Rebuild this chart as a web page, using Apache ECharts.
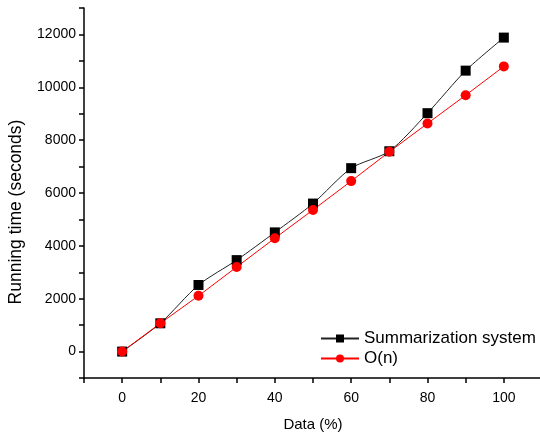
<!DOCTYPE html>
<html>
<head>
<meta charset="utf-8">
<script src="https://cdn.jsdelivr.net/npm/echarts@6/dist/echarts.min.js"></script>
<style>
  html, body { margin: 0; padding: 0; background: #fff; }
  #chart { width: 540px; height: 436px; }
</style>
</head>
<body>
<div id="chart"></div>
<script>
// data
var dataPct = [0, 10, 20, 30, 40, 50, 60, 70, 80, 90, 100];
var summarization = [0, 1070, 2520, 3460, 4510, 5600, 6940, 7580, 9020, 10630, 11880];
var linear = [0, 1070, 2110, 3200, 4290, 5360, 6450, 7560, 8630, 9700, 10790];
var seriesNames = ['Summarization system', 'O(n)'];

function pairs(xs, ys) {
    var out = [];
    for (var i = 0; i < xs.length; i++) {
        out.push([xs[i], ys[i]]);
    }
    return out;
}

var myChart = echarts.init(document.getElementById('chart'));
var fontName = 'Liberation Sans, Arial';

var option = {
    animation: false,
    grid: { left: 84, top: 8, right: -2, bottom: 58, outerBoundsMode: 'none', containLabel: false },
    legend: {
        orient: 'vertical',
        left: 315,
        top: 325,
        itemWidth: 38,
        itemHeight: 10,
        itemGap: 3,
        textStyle: { fontFamily: fontName, fontSize: 17, color: '#000' },
        data: seriesNames
    },
    xAxis: {
        type: 'value',
        min: -10,
        max: 110,
        interval: 10,
        name: 'Data (%)',
        nameLocation: 'middle',
        nameGap: 39,
        nameTextStyle: { fontFamily: fontName, fontSize: 15, color: '#000' },
        splitLine: { show: false },
        axisLine: { onZero: false, lineStyle: { color: '#000', width: 1.5 } },
        axisTick: { length: 5, lineStyle: { color: '#000', width: 1.5 } },
        axisLabel: {
            margin: 13,
            fontFamily: fontName, fontSize: 14, color: '#000',
            formatter: function (v) {
                return (v >= 0 && v <= 100 && v % 20 === 0) ? String(v) : '';
            }
        }
    },
    yAxis: {
        type: 'value',
        min: -1000,
        max: 13000,
        interval: 1000,
        name: 'Running time (seconds)',
        nameLocation: 'middle',
        nameGap: 59,
        nameTextStyle: { fontFamily: fontName, fontSize: 17.5, color: '#000', padding: [0, 38, 0, 0] },
        splitLine: { show: false },
        axisLine: { show: true, onZero: false, lineStyle: { color: '#000', width: 1.5 } },
        axisTick: { show: true, length: 5, lineStyle: { color: '#000', width: 1.5 } },
        axisLabel: {
            margin: 8,
            fontFamily: fontName, fontSize: 14, color: '#000',
            formatter: function (v) {
                return (v >= 0 && v % 2000 === 0) ? String(v) : '';
            }
        }
    },
    series: [
        {
            name: seriesNames[0],
            type: 'line',
            smooth: 0.25,
            data: pairs(dataPct, summarization),
            symbol: 'rect',
            symbolSize: 10,
            itemStyle: { color: '#000' },
            lineStyle: { color: '#222', width: 1 }
        },
        {
            name: seriesNames[1],
            type: 'line',
            data: pairs(dataPct, linear),
            symbol: 'circle',
            symbolSize: 10,
            itemStyle: { color: '#ff0000' },
            lineStyle: { color: '#ff0000', width: 1 }
        }
    ]
};
myChart.setOption(option);
</script>
</body>
</html>
